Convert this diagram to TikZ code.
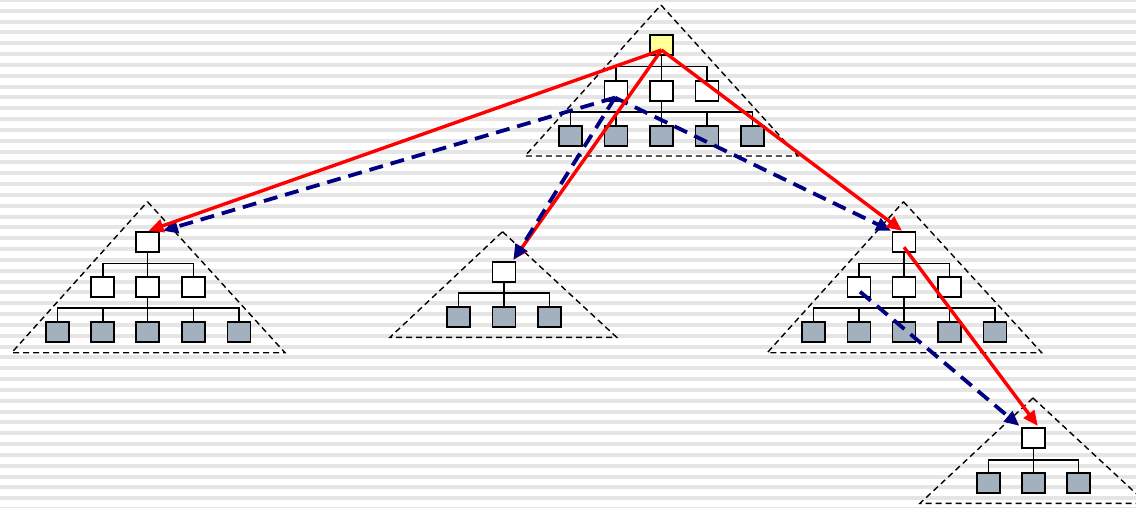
\documentclass[tikz,border=0pt]{standalone}
\usetikzlibrary{arrows.meta,calc}
\definecolor{boxgray}{RGB}{163,176,190}
\definecolor{boxyellow}{RGB}{255,255,153}
\definecolor{stripe}{RGB}{229,229,229}
\definecolor{navyblue}{RGB}{0,0,128}
\tikzset{
  tbox/.style={draw=black,line width=1.8pt,minimum width=23pt,minimum height=20pt,inner sep=0pt},
  wbox/.style={tbox,fill=white},
  gbox/.style={tbox,fill=boxgray},
  ybox/.style={tbox,fill=boxyellow},
  tline/.style={draw=black,line width=1.6pt},
  hull/.style={draw=black,line width=1.4pt,dash pattern=on 6pt off 4pt},
  redarrow/.style={draw=red,line width=3.4pt,-{Triangle[length=15pt,width=13pt]}},
  bluearrow/.style={draw=navyblue,line width=3.8pt,dash pattern=on 14pt off 8pt,-{Triangle[length=15pt,width=13pt]}},
}
\begin{document}
\begin{tikzpicture}[x=1pt,y=-1pt]
\useasboundingbox (0,0) rectangle (1136,507);
\clip (0,0) rectangle (1136,507);
\fill[white] (0,0) rectangle (1136,507);
\foreach \i in {0,...,47} \fill[stripe] (0,{\i*10.83-2}) rectangle (1136,{\i*10.83+2});

% ---- hulls ----
\draw[hull] (661,5) -- (798,156) -- (525,156) -- cycle;
\draw[hull] (147.5,201.7) -- (285,352.7) -- (11.7,352.7) -- cycle;
\draw[hull] (502.5,231.7) -- (616.7,337.3) -- (390,337.3) -- cycle;
\draw[hull] (903.5,201.7) -- (1041.7,352.7) -- (767.3,352.7) -- cycle;
\draw[hull] (1033,398) -- (1146.6,503.3) -- (920,503.3) -- cycle;

% ---- top tree ----
\node[ybox] (t) at (661.5,45) {};
\node[wbox] (t1) at (616,90.7) {};
\node[wbox] (t2) at (661.5,90.7) {};
\node[wbox] (t3) at (707,90.7) {};
\foreach \n/\x in {1/570.5,2/616,3/661.5,4/707,5/752.5}
  \node[gbox] (t2\n) at (\x,136) {};
\foreach \c in {t1,t2,t3} \draw[tline] (t.south) -- ++(0,10.7) -| (\c.north);
\foreach \c in {t21,t22,t23,t24,t25} \draw[tline] (t2.south) -- ++(0,10.3) -| (\c.north);

% ---- left tree ----
\node[wbox] (l) at (147.5,241.7) {};
\node[wbox] (l1) at (102.7,287) {};
\node[wbox] (l2) at (147.5,287) {};
\node[wbox] (l3) at (193.3,287) {};
\foreach \n/\x in {1/57.3,2/102.7,3/147.5,4/193.3,5/239}
  \node[gbox] (l2\n) at (\x,332) {};
\foreach \c in {l1,l2,l3} \draw[tline] (l.south) -- ++(0,10.7) -| (\c.north);
\foreach \c in {l21,l22,l23,l24,l25} \draw[tline] (l2.south) -- ++(0,10.3) -| (\c.north);

% ---- middle tree ----
\node[wbox] (m) at (504,271.7) {};
\foreach \n/\x in {1/458.3,2/504,3/549.3}
  \node[gbox] (m\n) at (\x,317.3) {};
\foreach \c in {m1,m2,m3} \draw[tline] (m.south) -- ++(0,10.6) -| (\c.north);

% ---- right tree ----
\node[wbox] (r) at (904,241.7) {};
\node[wbox] (r1) at (859,287) {};
\node[wbox] (r2) at (904,287) {};
\node[wbox] (r3) at (949.3,287) {};
\foreach \n/\x in {1/813.3,2/859,3/904,4/949.3,5/995}
  \node[gbox] (r2\n) at (\x,332.3) {};
\foreach \c in {r1,r2,r3} \draw[tline] (r.south) -- ++(0,10.7) -| (\c.north);
\foreach \c in {r21,r22,r23,r24,r25} \draw[tline] (r2.south) -- ++(0,10.3) -| (\c.north);

% ---- bottom tree ----
\node[wbox] (b) at (1033.3,438.3) {};
\foreach \n/\x in {1/988.3,2/1033.3,3/1078.3}
  \node[gbox] (b\n) at (\x,483.3) {};
\foreach \c in {b1,b2,b3} \draw[tline] (b.south) -- ++(0,10.7) -| (\c.north);

% ---- connector endpoints ----
\coordinate (rs) at ($(t.center)+(0,5)$);
\coordinate (bs) at ($(t1.south)+(-1,-4)$);
\coordinate (rrs) at ($(r.center)+(0,5.5)$);
\coordinate (brs) at ($(r1.center)+(1,4.7)$);

% ---- blue dashed arrows ----
\draw[bluearrow] (bs) -- ($(l.north east)+(3,0)$);
\draw[bluearrow] (bs) -- ($(r.north west)+(-0.5,0)$);
\draw[bluearrow] (brs) -- ($(b.north west)+(-1.5,-1.5)$);

% ---- red arrows ----
\draw[redarrow] (rs) -- ($(l.north)+(1,0)$);
\draw[redarrow] (rs) -- ($(m.north east)+(-3,-1)$);
\draw[redarrow] (rs) -- ($(r.north)+(-2,0)$);
\draw[redarrow] (rrs) -- ($(b.north)+(4.5,-1.5)$);

\draw[bluearrow] (bs) -- ($(m.north east)+(-3,-1)$);
\end{tikzpicture}
\end{document}
